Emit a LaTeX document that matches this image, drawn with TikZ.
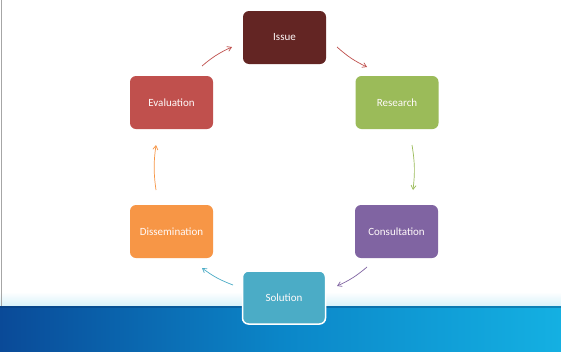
\documentclass[tikz,border=0pt]{standalone}
\usepackage{fontspec}
\setmainfont{Carlito}
\usetikzlibrary{arrows.meta}
\definecolor{cIssue}{HTML}{632523}
\definecolor{cRes}{HTML}{9BBB59}
\definecolor{cCon}{HTML}{8064A2}
\definecolor{cSol}{HTML}{4BACC6}
\definecolor{cDis}{HTML}{F79646}
\definecolor{cEva}{HTML}{C0504D}
\definecolor{bandL}{HTML}{0A4A98}
\definecolor{bandM}{HTML}{0B86C8}
\definecolor{bandR}{HTML}{14B0E2}
\definecolor{glow}{HTML}{D8F2FA}
\tikzset{
  stage/.style={rounded corners=6pt, minimum width=83pt, minimum height=53pt,
    text=white!92!pink, font=\fontsize{11}{12}\selectfont, inner sep=0pt},
  flow/.style={line width=0.7pt, -{Straight Barb[length=4pt,width=5pt]}}
}
\begin{document}
\begin{tikzpicture}[x=1pt,y=-1pt]
\useasboundingbox (0,0) rectangle (561,351);
\fill[white] (0,0) rectangle (561,351);
% glow above band
\shade[top color=white, bottom color=glow] (0,292) rectangle (561,306);
% band
\shade[left color=bandL, right color=bandR, middle color=bandM] (0,306) rectangle (561,351);
\fill[bandL!70!black, opacity=0.35] (0,306) rectangle (561,308);
% left edge line
\draw[gray!70, line width=0.8pt] (1.5,0) -- (1.5,306);

\node[stage, fill=cIssue] (issue) at (284.5,37.5) {Issue};
\node[stage, fill=cRes] (res) at (397,102.5) {Research};
\node[stage, fill=cCon] (con) at (396.5,231.5) {Consultation};
\node[stage, fill=cSol, draw=white, line width=1.5pt] (sol) at (284,297.5) {Solution};
\node[stage, fill=cDis] (dis) at (171.5,231.5) {Dissemination};
\node[stage, fill=cEva] (eva) at (171.5,102.5) {Evaluation};

\coordinate (a1) at (337,47);  \coordinate (b1) at (367,67);
\coordinate (a2) at (412,145); \coordinate (b2) at (413,190);
\coordinate (a3) at (367,267); \coordinate (b3) at (337,286);
\coordinate (a4) at (233,285); \coordinate (b4) at (202,268);
\coordinate (a5) at (156,190); \coordinate (b5) at (156,145);
\coordinate (a6) at (202,66);  \coordinate (b6) at (232,47);

\draw[flow, cEva] (a1) to[bend right=8] (b1);
\draw[flow, cRes] (a2) to[bend left=8] (b2);
\draw[flow, cCon] (a3) to[bend left=8] (b3);
\draw[flow, cSol] (a4) to[bend left=8] (b4);
\draw[flow, cDis] (a5) to[bend left=8] (b5);
\draw[flow, cEva] (a6) to[bend left=8] (b6);
\end{tikzpicture}
\end{document}
